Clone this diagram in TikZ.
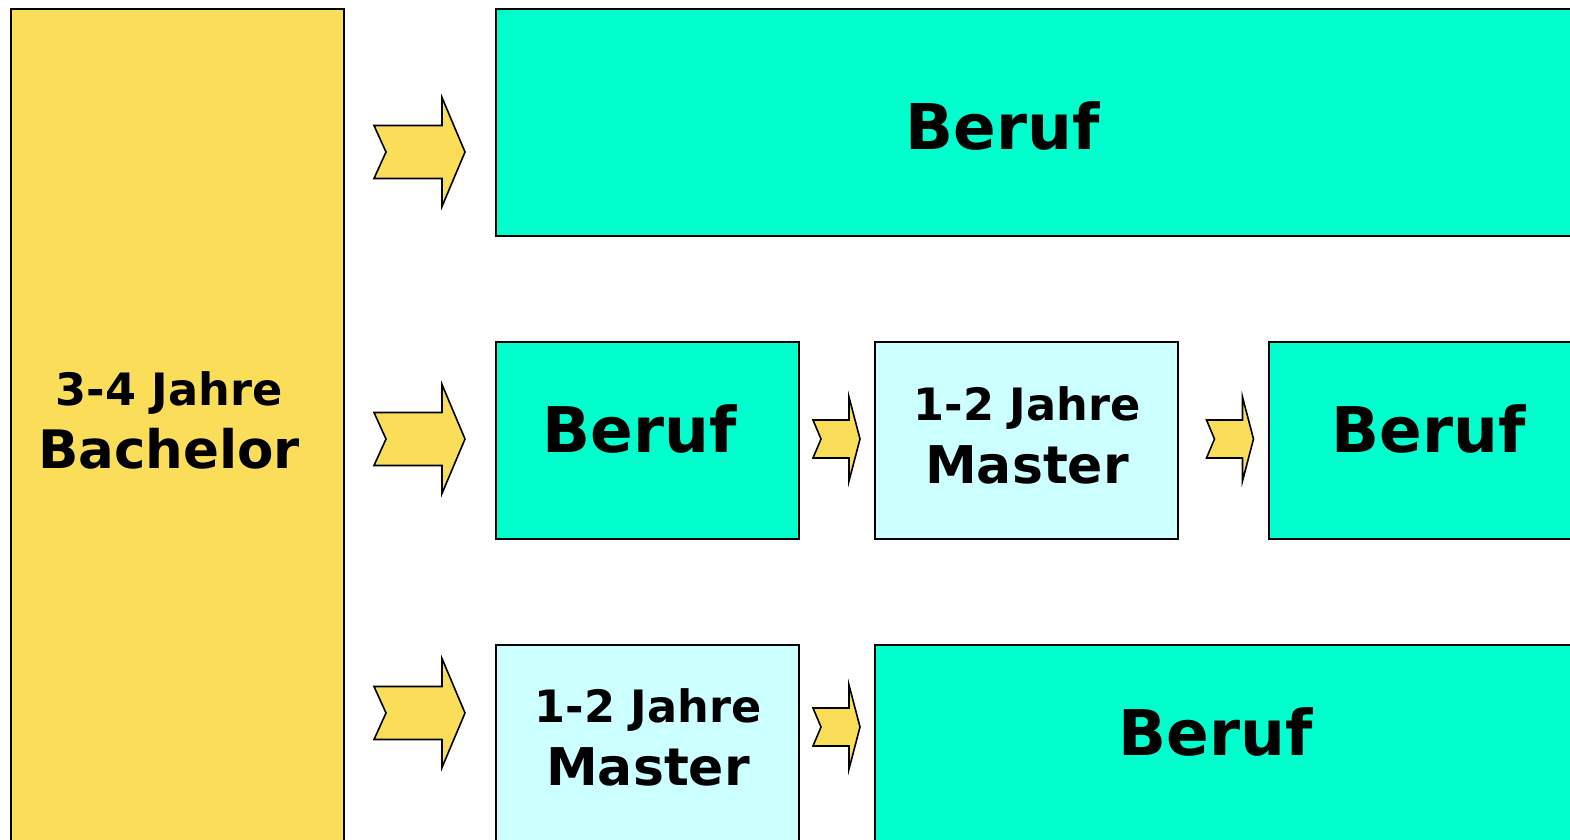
\documentclass[tikz,border=0pt]{standalone}
\usepackage{fontspec}
\setmainfont{DejaVu Sans}
\usetikzlibrary{positioning}
\definecolor{bachgelb}{RGB}{250,222,90}
\definecolor{berufgruen}{RGB}{0,255,204}
\definecolor{mastercyan}{RGB}{204,255,255}

\begin{document}
\begin{tikzpicture}[x=0.5pt,y=-0.5pt,
            box/.style = {draw,line width=1pt,anchor=north west,
                align=center,inner sep=0pt},
            berufbox/.style = {box,fill=berufgruen},
            masterbox/.style = {box,fill=mastercyan,
                minimum width=151.5pt,minimum height=98.5pt},
            gross/.style = {font=\bfseries\fontsize{31.5}{36}\selectfont},
            zweizeilig/.style = {align=center,inner sep=0pt,
                font=\bfseries\fontsize{22.3}{31.5}\selectfont},
            pfeil/.style = {draw,fill=bachgelb,line width=0.8pt,line join=miter},
            pics/grosspfeil/.style = {code={
                \path[pfeil] (-45.5,-26.5) -- (22.5,-26.5) -- (22.5,-54.5)
                    -- (45.5,0) -- (22.5,54.5) -- (22.5,26.5)
                    -- (-45.5,26.5) -- (-33.5,0) -- cycle;}},
            pics/kleinpfeil/.style = {code={
                \path[pfeil] (-23.5,-19) -- (12.5,-19) -- (12.5,-42)
                    -- (23.5,0) -- (12.5,42) -- (12.5,19)
                    -- (-23.5,19) -- (-15.5,0) -- cycle;}}]
            \useasboundingbox[fill=white] (0,0) rectangle (1570,840);
            % Bachelor
            \node[box,fill=bachgelb,minimum width=166.5pt,minimum height=430pt]
                (bachelor) at (10,8) {};
            \node[zweizeilig] (bachelortext) at (169,420)
                {3-4 Jahre\\{\fontsize{26.5}{31.5}\selectfont Bachelor}};
            % Zeile 1
            \node[berufbox,minimum width=600pt,minimum height=113.5pt]
                (beruf1) at (495,8) {};
            \node[gross] (beruf1text) at (1003,126) {Beruf};
            % Zeile 2
            \node[berufbox,minimum width=151.5pt,minimum height=98.5pt]
                (beruf2) at (495,341) {};
            \node[gross] (beruf2text) at (640,429) {Beruf};
            \node[masterbox] (master2) at (874,341) {};
            \node[zweizeilig] (master2text) at (1027,435)
                {1-2 Jahre\\{\fontsize{26}{31.5}\selectfont Master}};
            \node[berufbox,minimum width=300pt,minimum height=98.5pt]
                (beruf3) at (1268,341) {};
            \node[gross] (beruf3text) at (1429,429) {Beruf};
            % Zeile 3
            \node[masterbox,minimum height=100pt] (master3) at (495,644) {};
            \node[zweizeilig] (master3text) at (648,737)
                {1-2 Jahre\\{\fontsize{26}{31.5}\selectfont Master}};
            \node[berufbox,minimum width=400pt,minimum height=110pt]
                (beruf4) at (874,644) {};
            \node[gross] (beruf4text) at (1216,732) {Beruf};
            % Pfeile
            \pic at (419.5,152) {grosspfeil};
            \pic at (419.5,439) {grosspfeil};
            \pic at (419.5,713) {grosspfeil};
            \pic at (836.5,439) {kleinpfeil};
            \pic at (1230,439) {kleinpfeil};
            \pic at (836.5,727) {kleinpfeil};
        \end{tikzpicture}
\end{document}
